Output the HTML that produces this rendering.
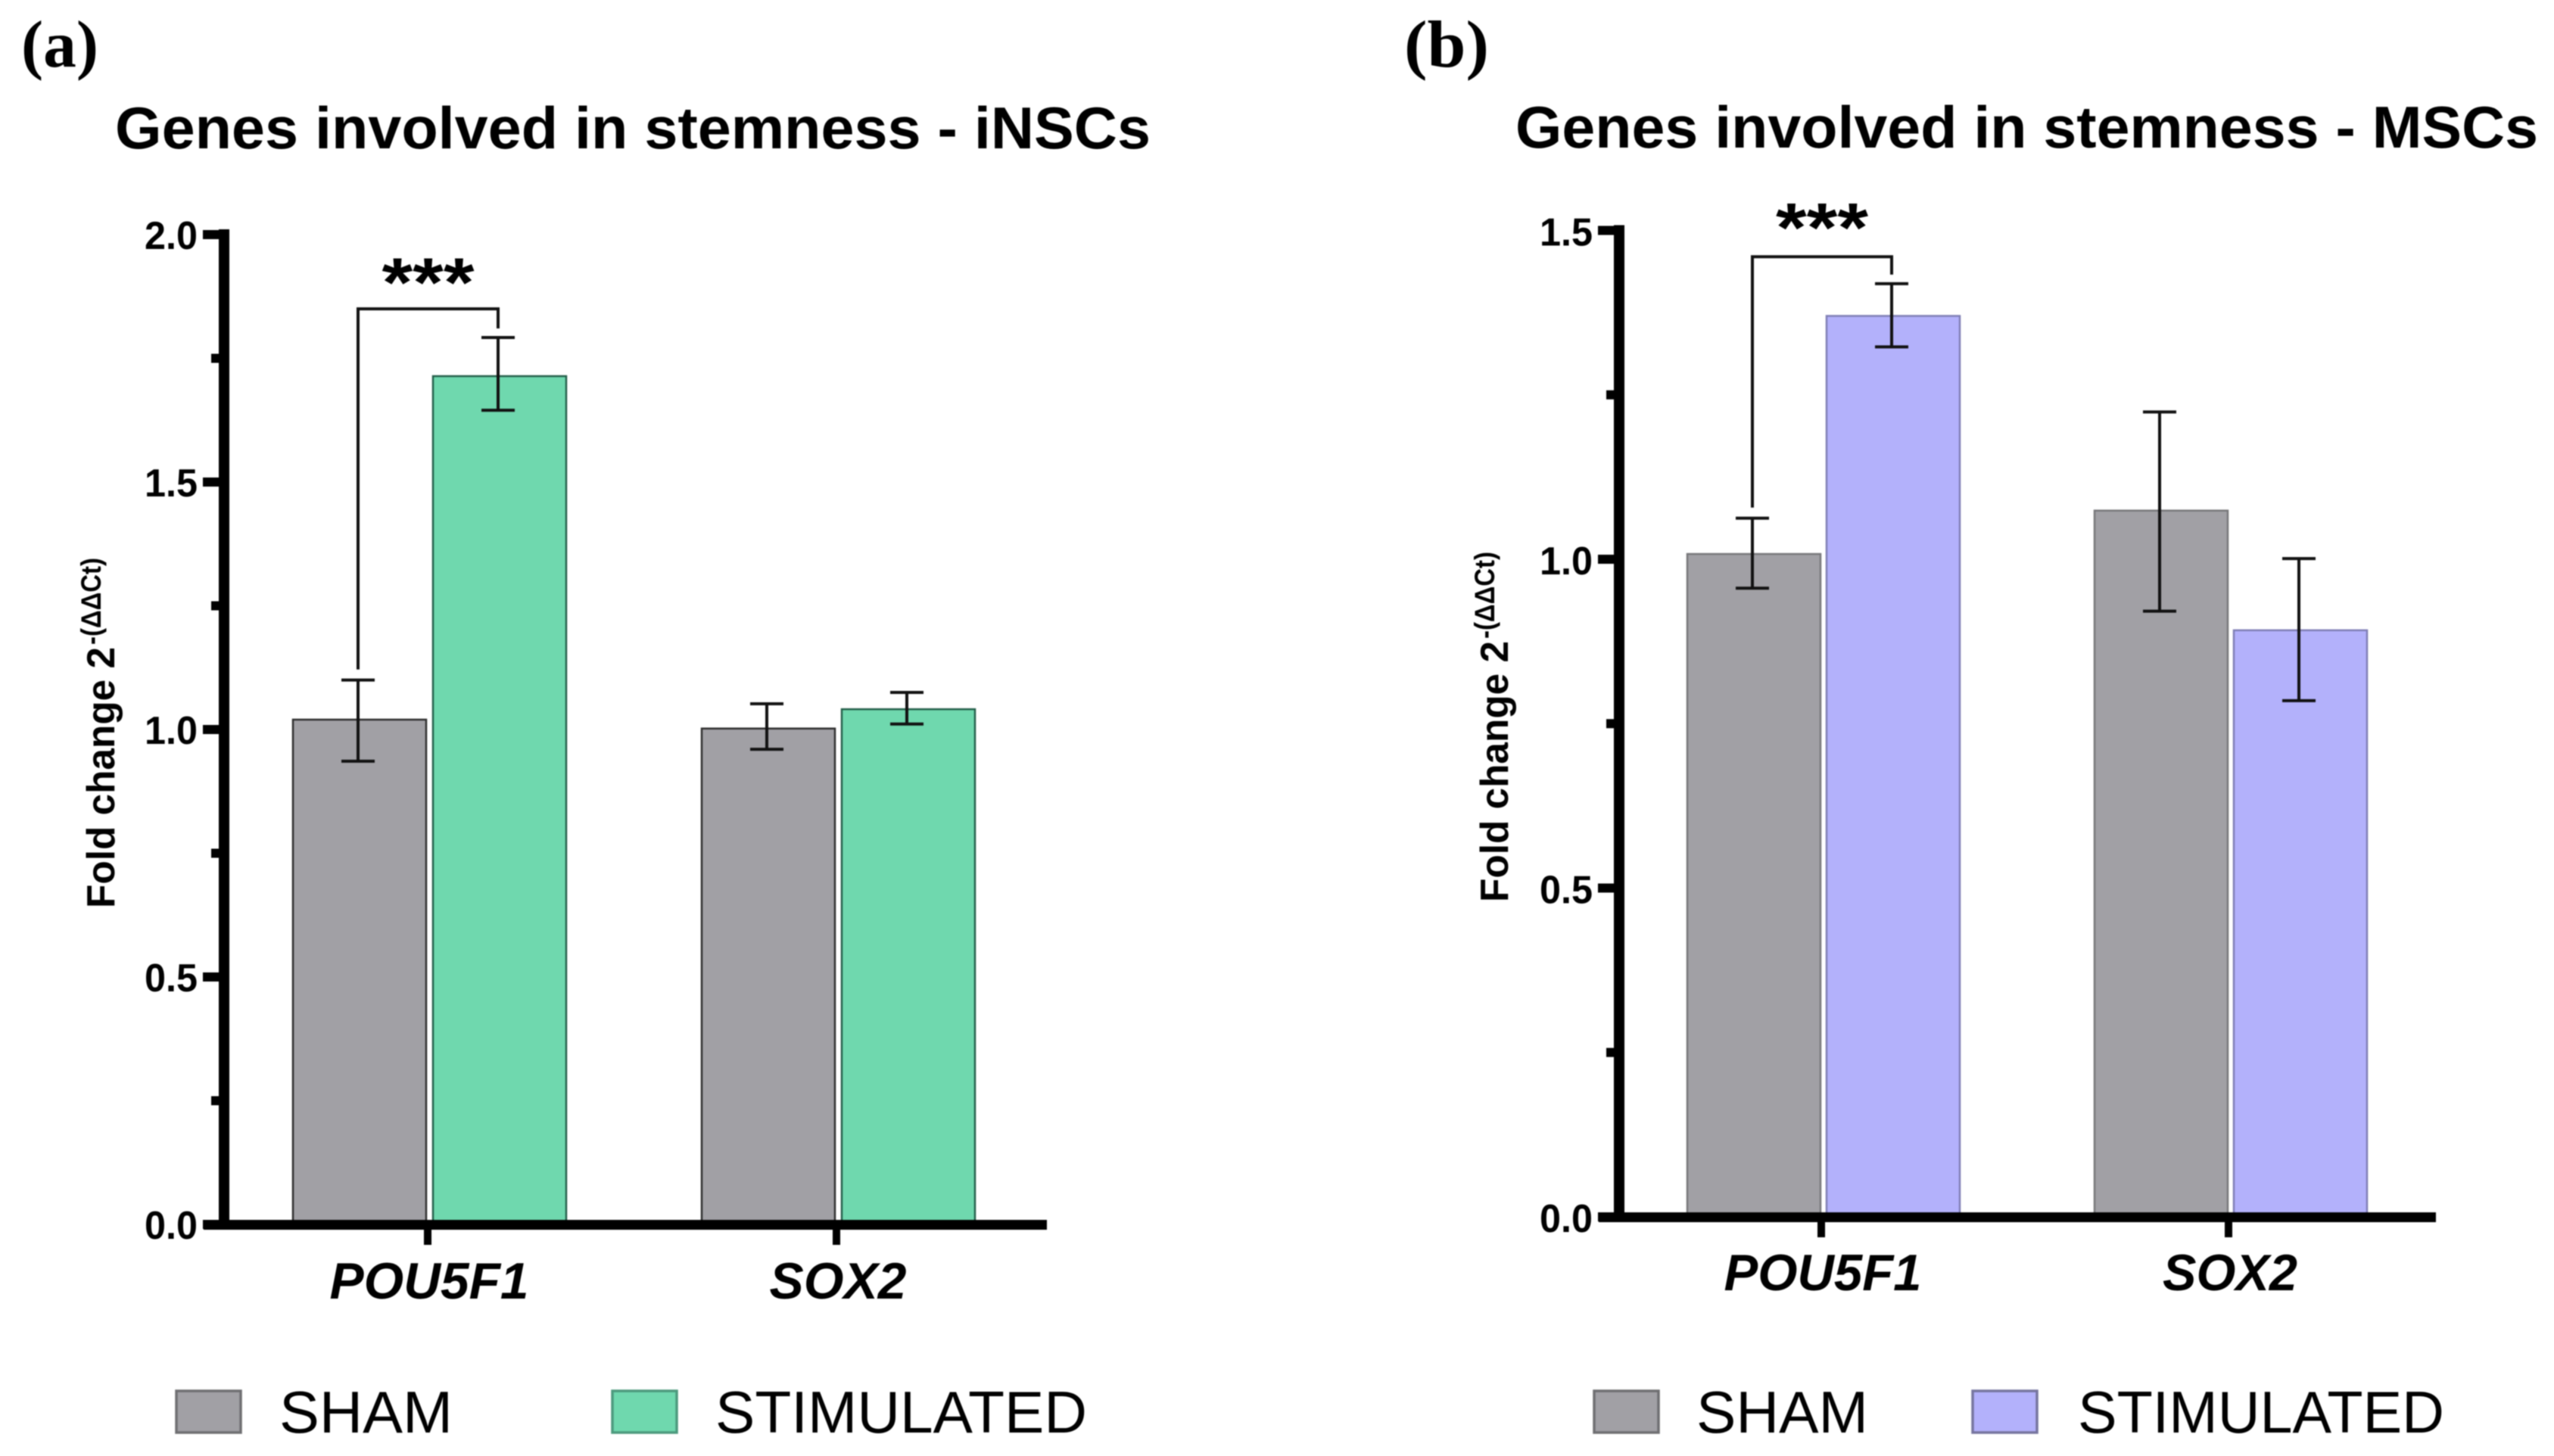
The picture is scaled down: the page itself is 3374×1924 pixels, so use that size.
<!DOCTYPE html>
<html lang="en">
<head>
<meta charset="utf-8">
<title>Genes involved in stemness</title>
<style>
  html, body { margin: 0; padding: 0; background: #fff; }
  svg { display: block; filter: blur(0.7px); }
  text { font-family: "Liberation Sans", sans-serif; fill: #000; }
</style>
</head>
<body>
<svg id="figure" xmlns="http://www.w3.org/2000/svg" width="3374" height="1924" viewBox="0 0 3374 1924">
  <rect width="3374" height="1924" fill="#fff"/>
  <text x="28" y="88" textLength="102" lengthAdjust="spacingAndGlyphs" style="font-family:'Liberation Serif',serif;font-weight:700;font-size:88px">(a)</text>
  <text x="1855" y="88" textLength="112" lengthAdjust="spacingAndGlyphs" style="font-family:'Liberation Serif',serif;font-weight:700;font-size:88px">(b)</text>
  <text x="152" y="196" textLength="1368" lengthAdjust="spacingAndGlyphs" font-weight="700" font-size="78">Genes involved in stemness - iNSCs</text>
  <text x="2002" y="195" textLength="1351" lengthAdjust="spacingAndGlyphs" font-weight="700" font-size="78">Genes involved in stemness - MSCs</text>
  <g transform="translate(151,1200) rotate(-90)">
    <text x="0" y="0" font-weight="700" font-size="52" textLength="345" lengthAdjust="spacingAndGlyphs">Fold change 2</text>
    <text x="348" y="-18" font-weight="700" font-size="37" textLength="115" lengthAdjust="spacingAndGlyphs">-(ΔΔCt)</text>
  </g>
  <g transform="translate(1992,1192) rotate(-90)">
    <text x="0" y="0" font-weight="700" font-size="52" textLength="345" lengthAdjust="spacingAndGlyphs">Fold change 2</text>
    <text x="348" y="-18" font-weight="700" font-size="37" textLength="115" lengthAdjust="spacingAndGlyphs">-(ΔΔCt)</text>
  </g>
</svg>
<script>
// ----- chart data -----
const categories = ["POU5F1", "SOX2"];
const seriesNames = ["SHAM", "STIMULATED"];

const tickLabelsA = ["0.0", "0.5", "1.0", "1.5", "2.0"];
const shamA = [1.02, 1.002];
const stimA = [1.714, 1.041];
const shamHighA = [1.10, 1.052];
const shamLowA = [0.936, 0.96];
const stimHighA = [1.792, 1.075];
const stimLowA = [1.645, 1.011];
const bracketLevelA = 1.85;

const tickLabelsB = ["0.0", "0.5", "1.0", "1.5"];
const shamB = [1.008, 1.074];
const stimB = [1.37, 0.892];
const shamHighB = [1.0625, 1.224];
const shamLowB = [0.956, 0.921];
const stimHighB = [1.419, 1.001];
const stimLowB = [1.323, 0.785];
const bracketLevelB = 1.46;

const NS = "http://www.w3.org/2000/svg";
const figure = document.getElementById("figure");

function mk(parent, tag, props, content) {
  const el = document.createElementNS(NS, tag);
  for (const k in props) el.setAttribute(k, props[k]);
  if (content !== undefined) el.textContent = content;
  parent.appendChild(el);
  return el;
}

function drawPanel(p) {
  const yScale = v => p.y0 - p.pxPerUnit * v;
  const maxVal = parseFloat(p.ticks[p.ticks.length - 1]);
  const xBand = i => p.catX0 + i * p.catStep;

  const root = mk(figure, "g", {});
  
  

  // bars and error bars
  [p.sham, p.stim].forEach((vals, s) => {
    const high = s === 0 ? p.shamHigh : p.stimHigh;
    const low = s === 0 ? p.shamLow : p.stimLow;
    vals.forEach((v, i) => {
      const left = xBand(i) + (s === 0 ? -p.barOuter : p.barInner);
      const bar = mk(root, "rect", {
        x: left, y: yScale(v), width: p.barW, height: p.y0 - yScale(v),
        fill: p.fills[s], stroke: p.strokes[s], "stroke-width": 2.5
      });
      
      

      const cx = left + p.barW / 2 - 2;
      const err = mk(root, "path", {
        d: "M" + cx + " " + yScale(high[i]) + "V" + yScale(low[i]) +
           "M" + (cx - 22) + " " + yScale(high[i]) + "H" + (cx + 22) +
           "M" + (cx - 22) + " " + yScale(low[i]) + "H" + (cx + 22),
        fill: "none", stroke: "#111", "stroke-width": 4
      });
      
      
    });
  });

  // significance bracket between the first pair of bars
  const bxL = xBand(0) - p.barOuter + p.barW / 2 - 2;
  const bxR = xBand(0) + p.barInner + p.barW / 2 - 2;
  const bracketY = yScale(p.bracket);
  const bracket = mk(root, "path", {
    d: "M" + bxL + " " + (yScale(p.shamHigh[0]) - 14) + "V" + bracketY + "H" + bxR + "V" + (yScale(p.stimHigh[0]) - 12),
    fill: "none", stroke: "#111", "stroke-width": 4
  });
  
  

  const stars = mk(root, "text", {
    x: (bxL + bxR) / 2, y: bracketY + p.starDy, "text-anchor": "middle",
    "font-weight": 700, "font-size": 92, textLength: 122, lengthAdjust: "spacingAndGlyphs"
  }, "***");
  
  

  // y axis
  const yAxis = mk(root, "rect", {
    x: p.axisX - 7, y: yScale(maxVal) - 7, width: 14, height: p.y0 - yScale(maxVal) + 13, fill: "#000"
  });
  
  

  p.ticks.forEach((t, i) => {
    const v = parseFloat(t);
    const tick = mk(root, "rect", {
      x: p.axisX - 28, y: yScale(v) - 6, width: 24, height: 12, fill: "#000"
    });
    
    

    const label = mk(root, "text", {
      x: p.axisX - 35, y: yScale(v) + p.tickDy, "text-anchor": "end",
      "font-weight": 700, "font-size": 52, textLength: 70, lengthAdjust: "spacingAndGlyphs"
    }, t);
    
    

    if (i < p.ticks.length - 1) {
      const mid = (v + parseFloat(p.ticks[i + 1])) / 2;
      const minor = mk(root, "rect", {
        x: p.axisX - 17, y: yScale(mid) - 6, width: 12, height: 12, fill: "#000"
      });
      
      
    }
  });

  // x axis
  const xAxis = mk(root, "rect", {
    x: p.xStart, y: p.y0 - 6, width: p.xEnd - p.xStart, height: 13, fill: "#000"
  });
  
  

  categories.forEach((c, i) => {
    const tick = mk(root, "rect", {
      x: xBand(i) - 5, y: p.y0, width: 10, height: 27, fill: "#000"
    });
    
    

    const label = mk(root, "text", {
      x: xBand(i) + p.catDx, y: p.catBase, "text-anchor": "middle",
      "font-weight": 700, "font-style": "italic", "font-size": 68,
      textLength: p.catWidths[i], lengthAdjust: "spacingAndGlyphs"
    }, c);
    
    
  });

  // legend
  seriesNames.forEach((n, s) => {
    const swatch = mk(root, "rect", {
      x: p.legendSwatchX[s], y: 1838, width: p.legendSwatchW, height: 55,
      fill: p.fills[s], stroke: p.legendStrokes[s], "stroke-width": 3.5
    });
    
    

    const text = mk(root, "text", {
      x: p.legendTextX[s], y: 1893, "font-size": 78,
      textLength: p.legendTextW[s], lengthAdjust: "spacingAndGlyphs"
    }, n);
    
    
  });
}

drawPanel({
  id: "a", ticks: tickLabelsA,
  sham: shamA, stim: stimA, shamHigh: shamHighA, shamLow: shamLowA, stimHigh: stimHighA, stimLow: stimLowA,
  bracket: bracketLevelA, starDy: -3, tickDy: 19,
  y0: 1618, pxPerUnit: 654, axisX: 296, xStart: 269, xEnd: 1383,
  catX0: 565, catStep: 540, catDx: 2, catBase: 1716, catWidths: [263, 181],
  barOuter: 178, barInner: 7, barW: 176,
  fills: ["#a1a0a5", "#6fd8ae"], strokes: ["#2e2e2e", "#245f4a"],
  legendStrokes: ["#6f6f72", "#4d9a7e"],
  legendSwatchX: [233, 809], legendSwatchW: 85, legendTextX: [369, 945], legendTextW: [229, 491]
});

drawPanel({
  id: "b", ticks: tickLabelsB,
  sham: shamB, stim: stimB, shamHigh: shamHighB, shamLow: shamLowB, stimHigh: stimHighB, stimLow: stimLowB,
  bracket: bracketLevelB, starDy: -7, tickDy: 20,
  y0: 1608, pxPerUnit: 869, axisX: 2139, xStart: 2112, xEnd: 3218,
  catX0: 2406, catStep: 538, catDx: 2, catBase: 1705, catWidths: [261, 178],
  barOuter: 177, barInner: 7, barW: 176,
  fills: ["#a1a0a5", "#b3b1fb"], strokes: ["#77777a", "#7f7eb5"],
  legendStrokes: ["#6f6f72", "#76759f"],
  legendSwatchX: [2106, 2606], legendSwatchW: 85, legendTextX: [2241, 2745], legendTextW: [227, 484]
});
</script>
</body>
</html>
